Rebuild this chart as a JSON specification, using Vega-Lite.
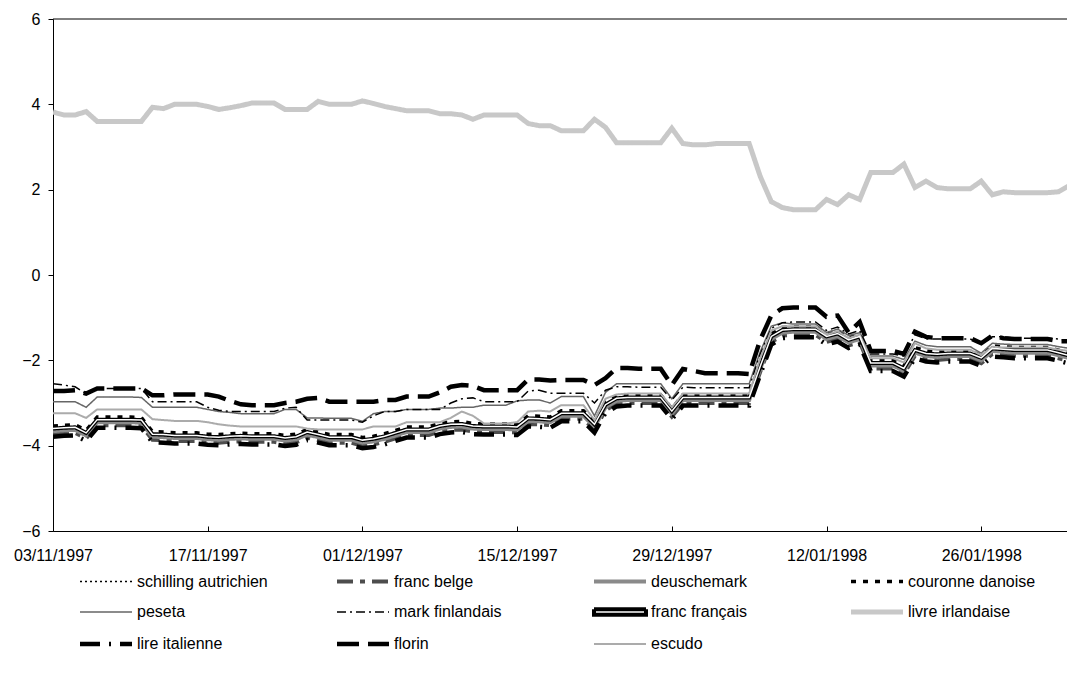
{
"$schema": "https://vega.github.io/schema/vega-lite/v6.json",
"width": 1014, "height": 512,
"autosize": {"type": "none"},
"padding": {"left": 53, "top": 19, "right": 0, "bottom": 148},
"background": "white",
"config": {"view": {"stroke": null}, "font": "Liberation Sans"},
"datasets": {"rates": [
{"d":"1997-11-03","sa":-3.64,"fb":-3.73,"dm":-3.66,"cd":-3.54,"pe":-2.97,"mf":-2.55,"ff":-3.60,"li":3.82,"lt":-3.79,"fl":-2.72,"es":-3.24},
{"d":"1997-11-04","sa":-3.62,"fb":-3.71,"dm":-3.64,"cd":-3.52,"pe":-2.97,"mf":-2.58,"ff":-3.58,"li":3.75,"lt":-3.77,"fl":-2.72,"es":-3.24},
{"d":"1997-11-05","sa":-3.61,"fb":-3.70,"dm":-3.63,"cd":-3.51,"pe":-2.97,"mf":-2.62,"ff":-3.57,"li":3.75,"lt":-3.76,"fl":-2.70,"es":-3.24},
{"d":"1997-11-06","sa":-3.74,"fb":-3.83,"dm":-3.76,"cd":-3.64,"pe":-3.10,"mf":-2.78,"ff":-3.70,"li":3.83,"lt":-3.89,"fl":-2.78,"es":-3.35},
{"d":"1997-11-07","sa":-3.43,"fb":-3.52,"dm":-3.45,"cd":-3.33,"pe":-2.86,"mf":-2.66,"ff":-3.39,"li":3.60,"lt":-3.58,"fl":-2.66,"es":-3.15},
{"d":"1997-11-08","sa":-3.43,"fb":-3.52,"dm":-3.45,"cd":-3.33,"pe":-2.86,"mf":-2.66,"ff":-3.39,"li":3.60,"lt":-3.58,"fl":-2.66,"es":-3.15},
{"d":"1997-11-09","sa":-3.43,"fb":-3.52,"dm":-3.45,"cd":-3.33,"pe":-2.86,"mf":-2.66,"ff":-3.39,"li":3.60,"lt":-3.58,"fl":-2.66,"es":-3.15},
{"d":"1997-11-10","sa":-3.43,"fb":-3.52,"dm":-3.45,"cd":-3.33,"pe":-2.86,"mf":-2.66,"ff":-3.39,"li":3.60,"lt":-3.58,"fl":-2.66,"es":-3.15},
{"d":"1997-11-11","sa":-3.44,"fb":-3.53,"dm":-3.46,"cd":-3.34,"pe":-2.87,"mf":-2.66,"ff":-3.40,"li":3.60,"lt":-3.59,"fl":-2.66,"es":-3.15},
{"d":"1997-11-12","sa":-3.77,"fb":-3.86,"dm":-3.79,"cd":-3.67,"pe":-3.10,"mf":-2.97,"ff":-3.73,"li":3.93,"lt":-3.92,"fl":-2.82,"es":-3.38},
{"d":"1997-11-13","sa":-3.78,"fb":-3.87,"dm":-3.80,"cd":-3.68,"pe":-3.10,"mf":-2.97,"ff":-3.74,"li":3.90,"lt":-3.93,"fl":-2.82,"es":-3.40},
{"d":"1997-11-14","sa":-3.80,"fb":-3.89,"dm":-3.82,"cd":-3.70,"pe":-3.10,"mf":-2.97,"ff":-3.76,"li":4.00,"lt":-3.95,"fl":-2.80,"es":-3.42},
{"d":"1997-11-15","sa":-3.80,"fb":-3.89,"dm":-3.82,"cd":-3.70,"pe":-3.10,"mf":-2.97,"ff":-3.76,"li":4.00,"lt":-3.95,"fl":-2.80,"es":-3.42},
{"d":"1997-11-16","sa":-3.80,"fb":-3.89,"dm":-3.82,"cd":-3.70,"pe":-3.10,"mf":-2.97,"ff":-3.76,"li":4.00,"lt":-3.95,"fl":-2.80,"es":-3.42},
{"d":"1997-11-17","sa":-3.83,"fb":-3.92,"dm":-3.85,"cd":-3.73,"pe":-3.15,"mf":-3.10,"ff":-3.79,"li":3.95,"lt":-3.98,"fl":-2.80,"es":-3.45},
{"d":"1997-11-18","sa":-3.84,"fb":-3.93,"dm":-3.86,"cd":-3.74,"pe":-3.20,"mf":-3.17,"ff":-3.80,"li":3.88,"lt":-3.99,"fl":-2.85,"es":-3.50},
{"d":"1997-11-19","sa":-3.82,"fb":-3.91,"dm":-3.84,"cd":-3.72,"pe":-3.22,"mf":-3.20,"ff":-3.78,"li":3.92,"lt":-3.97,"fl":-2.95,"es":-3.53},
{"d":"1997-11-20","sa":-3.81,"fb":-3.90,"dm":-3.83,"cd":-3.71,"pe":-3.25,"mf":-3.20,"ff":-3.77,"li":3.97,"lt":-3.96,"fl":-3.03,"es":-3.55},
{"d":"1997-11-21","sa":-3.82,"fb":-3.91,"dm":-3.84,"cd":-3.72,"pe":-3.25,"mf":-3.20,"ff":-3.78,"li":4.03,"lt":-3.97,"fl":-3.05,"es":-3.55},
{"d":"1997-11-22","sa":-3.82,"fb":-3.91,"dm":-3.84,"cd":-3.72,"pe":-3.25,"mf":-3.20,"ff":-3.78,"li":4.03,"lt":-3.97,"fl":-3.05,"es":-3.55},
{"d":"1997-11-23","sa":-3.82,"fb":-3.91,"dm":-3.84,"cd":-3.72,"pe":-3.25,"mf":-3.20,"ff":-3.78,"li":4.03,"lt":-3.97,"fl":-3.05,"es":-3.55},
{"d":"1997-11-24","sa":-3.86,"fb":-3.95,"dm":-3.88,"cd":-3.76,"pe":-3.15,"mf":-3.12,"ff":-3.82,"li":3.88,"lt":-4.01,"fl":-3.00,"es":-3.55},
{"d":"1997-11-25","sa":-3.83,"fb":-3.92,"dm":-3.85,"cd":-3.73,"pe":-3.15,"mf":-3.10,"ff":-3.79,"li":3.88,"lt":-3.98,"fl":-2.97,"es":-3.55},
{"d":"1997-11-26","sa":-3.72,"fb":-3.81,"dm":-3.74,"cd":-3.62,"pe":-3.35,"mf":-3.40,"ff":-3.68,"li":3.88,"lt":-3.87,"fl":-2.90,"es":-3.60},
{"d":"1997-11-27","sa":-3.78,"fb":-3.87,"dm":-3.80,"cd":-3.68,"pe":-3.35,"mf":-3.40,"ff":-3.74,"li":4.07,"lt":-3.93,"fl":-2.88,"es":-3.62},
{"d":"1997-11-28","sa":-3.84,"fb":-3.93,"dm":-3.86,"cd":-3.74,"pe":-3.36,"mf":-3.40,"ff":-3.80,"li":4.00,"lt":-3.99,"fl":-2.97,"es":-3.62},
{"d":"1997-11-29","sa":-3.84,"fb":-3.93,"dm":-3.86,"cd":-3.74,"pe":-3.36,"mf":-3.40,"ff":-3.80,"li":4.00,"lt":-3.99,"fl":-2.97,"es":-3.62},
{"d":"1997-11-30","sa":-3.84,"fb":-3.93,"dm":-3.86,"cd":-3.74,"pe":-3.36,"mf":-3.40,"ff":-3.80,"li":4.00,"lt":-3.99,"fl":-2.97,"es":-3.62},
{"d":"1997-12-01","sa":-3.91,"fb":-4.00,"dm":-3.93,"cd":-3.81,"pe":-3.43,"mf":-3.45,"ff":-3.87,"li":4.08,"lt":-4.06,"fl":-2.97,"es":-3.62},
{"d":"1997-12-02","sa":-3.88,"fb":-3.97,"dm":-3.90,"cd":-3.78,"pe":-3.25,"mf":-3.30,"ff":-3.84,"li":4.02,"lt":-4.03,"fl":-2.97,"es":-3.55},
{"d":"1997-12-03","sa":-3.82,"fb":-3.91,"dm":-3.84,"cd":-3.72,"pe":-3.20,"mf":-3.20,"ff":-3.78,"li":3.95,"lt":-3.97,"fl":-2.93,"es":-3.55},
{"d":"1997-12-04","sa":-3.74,"fb":-3.83,"dm":-3.76,"cd":-3.64,"pe":-3.20,"mf":-3.20,"ff":-3.70,"li":3.90,"lt":-3.89,"fl":-2.93,"es":-3.55},
{"d":"1997-12-05","sa":-3.66,"fb":-3.75,"dm":-3.68,"cd":-3.56,"pe":-3.15,"mf":-3.15,"ff":-3.62,"li":3.85,"lt":-3.81,"fl":-2.85,"es":-3.45},
{"d":"1997-12-06","sa":-3.66,"fb":-3.75,"dm":-3.68,"cd":-3.56,"pe":-3.15,"mf":-3.15,"ff":-3.62,"li":3.85,"lt":-3.81,"fl":-2.85,"es":-3.45},
{"d":"1997-12-07","sa":-3.66,"fb":-3.75,"dm":-3.68,"cd":-3.56,"pe":-3.15,"mf":-3.15,"ff":-3.62,"li":3.85,"lt":-3.81,"fl":-2.85,"es":-3.45},
{"d":"1997-12-08","sa":-3.58,"fb":-3.67,"dm":-3.60,"cd":-3.48,"pe":-3.12,"mf":-3.15,"ff":-3.54,"li":3.78,"lt":-3.73,"fl":-2.75,"es":-3.45},
{"d":"1997-12-09","sa":-3.54,"fb":-3.63,"dm":-3.56,"cd":-3.44,"pe":-3.12,"mf":-3.00,"ff":-3.50,"li":3.78,"lt":-3.69,"fl":-2.62,"es":-3.35},
{"d":"1997-12-10","sa":-3.53,"fb":-3.62,"dm":-3.55,"cd":-3.43,"pe":-3.10,"mf":-2.90,"ff":-3.49,"li":3.75,"lt":-3.68,"fl":-2.58,"es":-3.20},
{"d":"1997-12-11","sa":-3.58,"fb":-3.67,"dm":-3.60,"cd":-3.48,"pe":-3.10,"mf":-2.88,"ff":-3.54,"li":3.65,"lt":-3.73,"fl":-2.60,"es":-3.30},
{"d":"1997-12-12","sa":-3.59,"fb":-3.68,"dm":-3.61,"cd":-3.49,"pe":-3.05,"mf":-2.97,"ff":-3.55,"li":3.75,"lt":-3.74,"fl":-2.70,"es":-3.48},
{"d":"1997-12-13","sa":-3.59,"fb":-3.68,"dm":-3.61,"cd":-3.49,"pe":-3.05,"mf":-2.97,"ff":-3.55,"li":3.75,"lt":-3.74,"fl":-2.70,"es":-3.48},
{"d":"1997-12-14","sa":-3.59,"fb":-3.68,"dm":-3.61,"cd":-3.49,"pe":-3.05,"mf":-2.97,"ff":-3.55,"li":3.75,"lt":-3.74,"fl":-2.70,"es":-3.48},
{"d":"1997-12-15","sa":-3.60,"fb":-3.69,"dm":-3.62,"cd":-3.50,"pe":-2.95,"mf":-2.97,"ff":-3.56,"li":3.75,"lt":-3.75,"fl":-2.70,"es":-3.45},
{"d":"1997-12-16","sa":-3.40,"fb":-3.49,"dm":-3.42,"cd":-3.30,"pe":-2.93,"mf":-2.72,"ff":-3.36,"li":3.55,"lt":-3.55,"fl":-2.45,"es":-3.20},
{"d":"1997-12-17","sa":-3.41,"fb":-3.50,"dm":-3.43,"cd":-3.31,"pe":-2.93,"mf":-2.70,"ff":-3.37,"li":3.50,"lt":-3.56,"fl":-2.45,"es":-3.18},
{"d":"1997-12-18","sa":-3.43,"fb":-3.52,"dm":-3.45,"cd":-3.33,"pe":-3.00,"mf":-2.77,"ff":-3.39,"li":3.50,"lt":-3.58,"fl":-2.47,"es":-3.20},
{"d":"1997-12-19","sa":-3.28,"fb":-3.37,"dm":-3.30,"cd":-3.18,"pe":-2.85,"mf":-2.77,"ff":-3.24,"li":3.38,"lt":-3.43,"fl":-2.46,"es":-3.05},
{"d":"1997-12-20","sa":-3.28,"fb":-3.37,"dm":-3.30,"cd":-3.18,"pe":-2.85,"mf":-2.77,"ff":-3.24,"li":3.38,"lt":-3.43,"fl":-2.46,"es":-3.05},
{"d":"1997-12-21","sa":-3.28,"fb":-3.37,"dm":-3.30,"cd":-3.18,"pe":-2.85,"mf":-2.77,"ff":-3.24,"li":3.38,"lt":-3.43,"fl":-2.46,"es":-3.05},
{"d":"1997-12-22","sa":-3.54,"fb":-3.63,"dm":-3.56,"cd":-3.44,"pe":-3.30,"mf":-3.00,"ff":-3.50,"li":3.65,"lt":-3.69,"fl":-2.58,"es":-3.40},
{"d":"1997-12-23","sa":-3.08,"fb":-3.17,"dm":-3.10,"cd":-2.98,"pe":-2.75,"mf":-2.70,"ff":-3.04,"li":3.46,"lt":-3.23,"fl":-2.42,"es":-2.90},
{"d":"1997-12-24","sa":-2.93,"fb":-3.02,"dm":-2.95,"cd":-2.83,"pe":-2.55,"mf":-2.62,"ff":-2.89,"li":3.10,"lt":-3.08,"fl":-2.18,"es":-2.80},
{"d":"1997-12-25","sa":-2.91,"fb":-3.00,"dm":-2.93,"cd":-2.81,"pe":-2.55,"mf":-2.62,"ff":-2.87,"li":3.10,"lt":-3.06,"fl":-2.18,"es":-2.78},
{"d":"1997-12-26","sa":-2.91,"fb":-3.00,"dm":-2.93,"cd":-2.81,"pe":-2.55,"mf":-2.63,"ff":-2.87,"li":3.10,"lt":-3.06,"fl":-2.20,"es":-2.78},
{"d":"1997-12-27","sa":-2.91,"fb":-3.00,"dm":-2.93,"cd":-2.81,"pe":-2.55,"mf":-2.63,"ff":-2.87,"li":3.10,"lt":-3.06,"fl":-2.20,"es":-2.78},
{"d":"1997-12-28","sa":-2.91,"fb":-3.00,"dm":-2.93,"cd":-2.81,"pe":-2.55,"mf":-2.63,"ff":-2.87,"li":3.10,"lt":-3.06,"fl":-2.20,"es":-2.78},
{"d":"1997-12-29","sa":-3.23,"fb":-3.32,"dm":-3.25,"cd":-3.13,"pe":-2.90,"mf":-2.93,"ff":-3.19,"li":3.44,"lt":-3.38,"fl":-2.58,"es":-3.10},
{"d":"1997-12-30","sa":-2.91,"fb":-3.00,"dm":-2.93,"cd":-2.81,"pe":-2.55,"mf":-2.63,"ff":-2.87,"li":3.08,"lt":-3.06,"fl":-2.20,"es":-2.78},
{"d":"1997-12-31","sa":-2.91,"fb":-3.00,"dm":-2.93,"cd":-2.81,"pe":-2.55,"mf":-2.64,"ff":-2.87,"li":3.05,"lt":-3.06,"fl":-2.25,"es":-2.78},
{"d":"1998-01-01","sa":-2.91,"fb":-3.00,"dm":-2.93,"cd":-2.81,"pe":-2.55,"mf":-2.64,"ff":-2.87,"li":3.05,"lt":-3.06,"fl":-2.30,"es":-2.78},
{"d":"1998-01-02","sa":-2.91,"fb":-3.00,"dm":-2.93,"cd":-2.81,"pe":-2.55,"mf":-2.64,"ff":-2.87,"li":3.08,"lt":-3.06,"fl":-2.30,"es":-2.78},
{"d":"1998-01-03","sa":-2.91,"fb":-3.00,"dm":-2.93,"cd":-2.81,"pe":-2.55,"mf":-2.64,"ff":-2.87,"li":3.08,"lt":-3.06,"fl":-2.30,"es":-2.78},
{"d":"1998-01-04","sa":-2.91,"fb":-3.00,"dm":-2.93,"cd":-2.81,"pe":-2.55,"mf":-2.64,"ff":-2.87,"li":3.08,"lt":-3.06,"fl":-2.30,"es":-2.78},
{"d":"1998-01-05","sa":-2.91,"fb":-3.00,"dm":-2.93,"cd":-2.81,"pe":-2.55,"mf":-2.64,"ff":-2.87,"li":3.08,"lt":-3.06,"fl":-2.32,"es":-2.78},
{"d":"1998-01-06","sa":-2.18,"fb":-2.27,"dm":-2.20,"cd":-2.08,"pe":-1.80,"mf":-1.85,"ff":-2.14,"li":2.31,"lt":-2.33,"fl":-1.52,"es":-1.95},
{"d":"1998-01-07","sa":-1.48,"fb":-1.57,"dm":-1.50,"cd":-1.38,"pe":-1.20,"mf":-1.25,"ff":-1.44,"li":1.72,"lt":-1.63,"fl":-0.95,"es":-1.30},
{"d":"1998-01-08","sa":-1.33,"fb":-1.42,"dm":-1.35,"cd":-1.23,"pe":-1.12,"mf":-1.12,"ff":-1.29,"li":1.58,"lt":-1.48,"fl":-0.78,"es":-1.20},
{"d":"1998-01-09","sa":-1.31,"fb":-1.40,"dm":-1.33,"cd":-1.21,"pe":-1.15,"mf":-1.10,"ff":-1.27,"li":1.53,"lt":-1.46,"fl":-0.76,"es":-1.20},
{"d":"1998-01-10","sa":-1.31,"fb":-1.40,"dm":-1.33,"cd":-1.21,"pe":-1.15,"mf":-1.10,"ff":-1.27,"li":1.53,"lt":-1.46,"fl":-0.76,"es":-1.20},
{"d":"1998-01-11","sa":-1.31,"fb":-1.40,"dm":-1.33,"cd":-1.21,"pe":-1.15,"mf":-1.10,"ff":-1.27,"li":1.53,"lt":-1.46,"fl":-0.76,"es":-1.20},
{"d":"1998-01-12","sa":-1.48,"fb":-1.57,"dm":-1.50,"cd":-1.38,"pe":-1.35,"mf":-1.30,"ff":-1.44,"li":1.77,"lt":-1.63,"fl":-0.98,"es":-1.40},
{"d":"1998-01-13","sa":-1.41,"fb":-1.50,"dm":-1.43,"cd":-1.31,"pe":-1.27,"mf":-1.22,"ff":-1.37,"li":1.65,"lt":-1.56,"fl":-0.95,"es":-1.32},
{"d":"1998-01-14","sa":-1.56,"fb":-1.65,"dm":-1.58,"cd":-1.46,"pe":-1.42,"mf":-1.38,"ff":-1.52,"li":1.88,"lt":-1.71,"fl":-1.35,"es":-1.48},
{"d":"1998-01-15","sa":-1.48,"fb":-1.57,"dm":-1.50,"cd":-1.38,"pe":-1.35,"mf":-1.30,"ff":-1.44,"li":1.77,"lt":-1.63,"fl":-1.10,"es":-1.40},
{"d":"1998-01-16","sa":-2.10,"fb":-2.19,"dm":-2.12,"cd":-2.00,"pe":-1.90,"mf":-1.85,"ff":-2.06,"li":2.40,"lt":-2.25,"fl":-1.78,"es":-1.95},
{"d":"1998-01-17","sa":-2.10,"fb":-2.19,"dm":-2.12,"cd":-2.00,"pe":-1.90,"mf":-1.85,"ff":-2.06,"li":2.40,"lt":-2.25,"fl":-1.78,"es":-1.95},
{"d":"1998-01-18","sa":-2.10,"fb":-2.19,"dm":-2.12,"cd":-2.00,"pe":-1.90,"mf":-1.85,"ff":-2.06,"li":2.40,"lt":-2.25,"fl":-1.78,"es":-1.95},
{"d":"1998-01-19","sa":-2.23,"fb":-2.32,"dm":-2.25,"cd":-2.13,"pe":-1.98,"mf":-1.90,"ff":-2.19,"li":2.60,"lt":-2.38,"fl":-1.85,"es":-2.05},
{"d":"1998-01-20","sa":-1.80,"fb":-1.89,"dm":-1.82,"cd":-1.70,"pe":-1.55,"mf":-1.40,"ff":-1.76,"li":2.05,"lt":-1.95,"fl":-1.33,"es":-1.60},
{"d":"1998-01-21","sa":-1.88,"fb":-1.97,"dm":-1.90,"cd":-1.78,"pe":-1.65,"mf":-1.50,"ff":-1.84,"li":2.20,"lt":-2.03,"fl":-1.45,"es":-1.72},
{"d":"1998-01-22","sa":-1.90,"fb":-1.99,"dm":-1.92,"cd":-1.80,"pe":-1.68,"mf":-1.50,"ff":-1.86,"li":2.05,"lt":-2.05,"fl":-1.48,"es":-1.75},
{"d":"1998-01-23","sa":-1.88,"fb":-1.97,"dm":-1.90,"cd":-1.78,"pe":-1.68,"mf":-1.50,"ff":-1.84,"li":2.02,"lt":-2.03,"fl":-1.48,"es":-1.75},
{"d":"1998-01-24","sa":-1.88,"fb":-1.97,"dm":-1.90,"cd":-1.78,"pe":-1.68,"mf":-1.50,"ff":-1.84,"li":2.02,"lt":-2.03,"fl":-1.48,"es":-1.75},
{"d":"1998-01-25","sa":-1.88,"fb":-1.97,"dm":-1.90,"cd":-1.78,"pe":-1.68,"mf":-1.50,"ff":-1.84,"li":2.02,"lt":-2.03,"fl":-1.48,"es":-1.75},
{"d":"1998-01-26","sa":-1.98,"fb":-2.07,"dm":-2.00,"cd":-1.88,"pe":-1.83,"mf":-1.62,"ff":-1.94,"li":2.20,"lt":-2.13,"fl":-1.60,"es":-1.88},
{"d":"1998-01-27","sa":-1.76,"fb":-1.85,"dm":-1.78,"cd":-1.66,"pe":-1.60,"mf":-1.45,"ff":-1.72,"li":1.88,"lt":-1.91,"fl":-1.42,"es":-1.68},
{"d":"1998-01-28","sa":-1.78,"fb":-1.87,"dm":-1.80,"cd":-1.68,"pe":-1.62,"mf":-1.45,"ff":-1.74,"li":1.95,"lt":-1.93,"fl":-1.48,"es":-1.70},
{"d":"1998-01-29","sa":-1.80,"fb":-1.89,"dm":-1.82,"cd":-1.70,"pe":-1.63,"mf":-1.48,"ff":-1.76,"li":1.93,"lt":-1.95,"fl":-1.50,"es":-1.70},
{"d":"1998-01-30","sa":-1.80,"fb":-1.89,"dm":-1.82,"cd":-1.70,"pe":-1.63,"mf":-1.48,"ff":-1.76,"li":1.93,"lt":-1.95,"fl":-1.50,"es":-1.70},
{"d":"1998-01-31","sa":-1.80,"fb":-1.89,"dm":-1.82,"cd":-1.70,"pe":-1.63,"mf":-1.48,"ff":-1.76,"li":1.93,"lt":-1.95,"fl":-1.50,"es":-1.70},
{"d":"1998-02-01","sa":-1.80,"fb":-1.89,"dm":-1.82,"cd":-1.70,"pe":-1.63,"mf":-1.48,"ff":-1.76,"li":1.93,"lt":-1.95,"fl":-1.50,"es":-1.70},
{"d":"1998-02-02","sa":-1.86,"fb":-1.95,"dm":-1.88,"cd":-1.76,"pe":-1.68,"mf":-1.50,"ff":-1.82,"li":1.95,"lt":-2.01,"fl":-1.55,"es":-1.75},
{"d":"1998-02-03","sa":-1.93,"fb":-2.02,"dm":-1.95,"cd":-1.83,"pe":-1.72,"mf":-1.55,"ff":-1.89,"li":2.10,"lt":-2.08,"fl":-1.55,"es":-1.78}
]},
"layer": [
{
 "data": {"values": [{}]},
 "mark": {"type": "rule", "color": "black", "strokeWidth": 1},
 "encoding": {"y": {"datum": 6, "type": "quantitative"}}
},
{
 "data": {"name": "rates"},
 "transform": [{"fold": ["sa","fb","dm","cd","pe","mf","ff","li","lt","fl","es"], "as": ["s","v"]}],
 "mark": {"type": "line", "clip": true},
 "encoding": {
  "x": {"field": "d", "type": "temporal",
   "scale": {"type": "utc", "domain": [{"year":1997,"month":11,"date":3,"utc":true},{"year":1998,"month":2,"date":2,"hours":18,"minutes":15,"utc":true}]},
   "axis": {"title": null, "grid": false, "labelExpr": "utcFormat(datum.value, '%d/%m/%Y')",
    "values": [{"year":1997,"month":11,"date":3,"utc":true},{"year":1997,"month":11,"date":17,"utc":true},{"year":1997,"month":12,"date":1,"utc":true},{"year":1997,"month":12,"date":15,"utc":true},{"year":1997,"month":12,"date":29,"utc":true},{"year":1998,"month":1,"date":12,"utc":true},{"year":1998,"month":1,"date":26,"utc":true}],
    "labelFontSize": 16, "labelColor": "black", "domainColor": "black", "tickColor": "black",
    "tickSize": -5, "labelPadding": 21, "labelFlush": false, "labelOverlap": false}},
  "y": {"field": "v", "type": "quantitative",
   "scale": {"domain": [-6, 6], "nice": false, "zero": false},
   "axis": {"title": null, "grid": false, "values": [-6,-4,-2,0,2,4,6],
    "labelFontSize": 16, "labelColor": "black", "domainColor": "black", "tickColor": "black",
    "tickSize": 5, "labelPadding": 8}},
  "color": {"field": "s", "type": "nominal",
   "scale": {"domain": ["sa","fb","dm","cd","pe","mf","ff","li","lt","fl","es"],
    "range": ["#000000","#4d4d4d","#8a8a8a","#000000","#666666","#000000","#000000","#c8c8c8","#000000","#000000","#ababab"]},
   "legend": {"orient": "none", "legendX": 45, "legendY": 553, "columns": 4, "direction": "horizontal", "title": null,
    "symbolType": "M-5.2,0H5.2", "symbolSize": 100, "labelFontSize": 16, "labelColor": "black",
    "labelOffset": 23, "columnPadding": 59, "rowPadding": 10, "gridAlign": "all", "labelLimit": 400,
    "labelExpr": "datum.value=='sa'?'schilling autrichien':datum.value=='fb'?'franc belge':datum.value=='dm'?'deuschemark':datum.value=='cd'?'couronne danoise':datum.value=='pe'?'peseta':datum.value=='mf'?'mark finlandais':datum.value=='ff'?'franc français':datum.value=='li'?'livre irlandaise':datum.value=='lt'?'lire italienne':datum.value=='fl'?'florin':'escudo'",
    "encode": {"symbols": {"update": {
      "shape": {"signal": "datum.value==='ff' ? 'M-5.2,-0.55H5.2V0.55H-5.2Z' : 'M-5.2,0H5.2'"},
      "fill": {"signal": "datum.value==='ff' ? 'white' : 'transparent'"},
      "strokeWidth": {"signal": "datum.value==='ff' ? 1.5 : scale('strokeWidth', datum.value)"}}}}}},
  "strokeDash": {"field": "s", "type": "nominal",
   "scale": {"domain": ["sa","fb","dm","cd","pe","mf","ff","li","lt","fl","es"],
    "range": [[2,3],[16,7,5,7],[1,0],[5,7],[1,0],[9,4,2,4],[1,0],[1,0],[20,9,2,9],[22,9],[1,0]]}},
  "strokeWidth": {"field": "s", "type": "ordinal",
   "scale": {"type": "ordinal", "domain": ["sa","fb","dm","cd","pe","mf","ff","li","lt","fl","es"],
    "range": [1.5,4,4,3.5,1.5,1.5,4,5,4.5,4.5,2]}}
 }
},
{
 "data": {"name": "rates"},
 "transform": [{"fold": ["ff"], "as": ["s","v"]}],
 "mark": {"type": "line", "clip": true, "color": "white", "strokeWidth": 1.5},
 "encoding": {
  "x": {"field": "d", "type": "temporal"},
  "y": {"field": "v", "type": "quantitative"}
 }
}
]
}
